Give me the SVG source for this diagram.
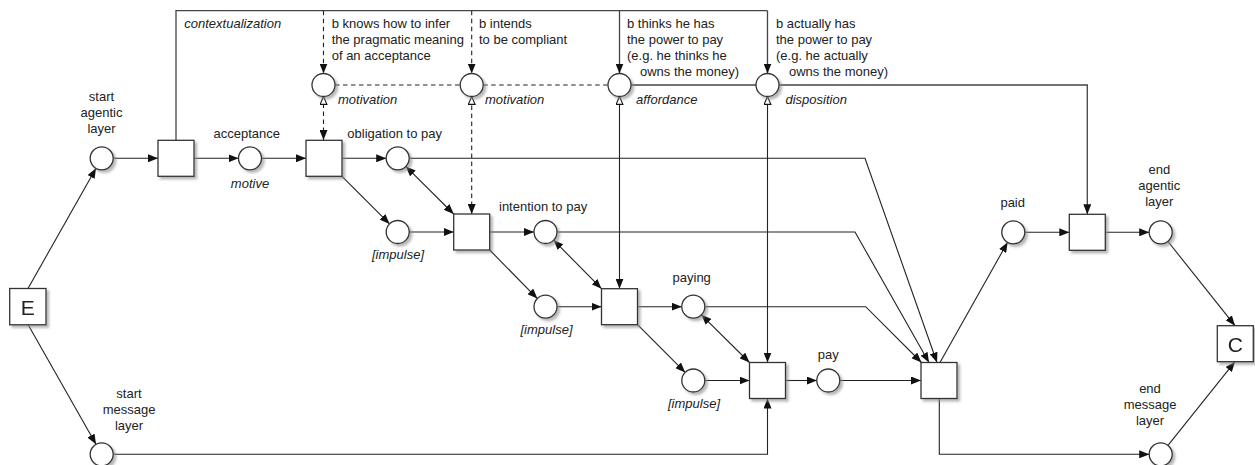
<svg xmlns="http://www.w3.org/2000/svg" width="1255" height="465" viewBox="0 0 1255 465">
<style>
text{font-family:"Liberation Sans",Arial,sans-serif;font-size:13px;fill:#222}
.it{font-style:italic}
.big{font-size:21px}
.m{text-anchor:middle}
.node{fill:#fff;stroke:#333;stroke-width:1.3}
.ln{fill:none;stroke:#222;stroke-width:1.1}
.ctx{fill:none;stroke:#444;stroke-width:1.3}
.ds{stroke-dasharray:4.5 3.5}
.a{marker-end:url(#ar)}
.aa{marker-end:url(#ar);marker-start:url(#ar)}
.ha{marker-end:url(#ho);marker-start:url(#ar)}
</style>
<defs>
<marker id="ar" viewBox="0 0 10 8" refX="10" refY="4" markerWidth="10" markerHeight="8" markerUnits="userSpaceOnUse" orient="auto-start-reverse">
<path d="M0,0 L10,4 L0,8 z" fill="#111" stroke="none"/>
</marker>
<marker id="ho" viewBox="0 0 9 8" refX="8.5" refY="4" markerWidth="9" markerHeight="8" markerUnits="userSpaceOnUse" orient="auto">
<path d="M0.6,0.6 L8.4,4 L0.6,7.4 z" fill="#fff" stroke="#111" stroke-width="1.1" stroke-dasharray="none"/>
</marker>
<filter id="sh" x="-20%" y="-20%" width="150%" height="150%">
<feDropShadow dx="2.5" dy="2.5" stdDeviation="1" flood-color="#888" flood-opacity="0.6"/>
</filter>
</defs>

<g id="connectors">
<!-- contextualization -->
<path class="ctx" d="M176,140 V10.7 H767.5"/>
<path class="ctx a" d="M619.5,10.7 V73.5"/>
<path class="ctx a" d="M767.5,10.7 V73.5"/>
<path class="ln ds a" d="M323.5,10.7 V73.5"/>
<path class="ln ds a" d="M471.7,10.7 V73.5"/>
<path class="ln ds" d="M335,85 H460.2 M483.2,85 H608"/>
<path class="ctx" d="M631,85 H756"/>
<path class="ctx a" d="M779,85 H1087.3 V214.3"/>
<!-- resource links -->
<path class="ln ds ha" d="M323.5,140 V96.5"/>
<path class="ln ds ha" d="M471.7,214 V96.5"/>
<path class="ln ha" d="M619.5,288.7 V96.5"/>
<path class="ln ha" d="M767.5,362.5 V96.5"/>
<!-- main flow -->
<path class="ln a" d="M28,288.5 L96,168.3"/>
<path class="ln a" d="M28,324.5 L96,444.3"/>
<path class="ln a" d="M113.2,158.3 H158"/>
<path class="ln a" d="M194,158.3 H238.5"/>
<path class="ln a" d="M261.5,158.3 H306"/>
<path class="ln a" d="M342,158.3 H386.2"/>
<path class="ln a" d="M342,176.3 L389.6,223.9"/>
<path class="ln a" d="M409.2,232 H453.7"/>
<path class="ln aa" d="M405.8,166.4 L453.7,214"/>
<path class="ln a" d="M489.7,232 H534"/>
<path class="ln a" d="M489.7,250 L537.4,298.6"/>
<path class="ln a" d="M557,306.7 H601.5"/>
<path class="ln aa" d="M553.6,240.1 L601.5,288.7"/>
<path class="ln a" d="M637.5,306.7 H681.8"/>
<path class="ln a" d="M637.5,324.7 L685.2,372.4"/>
<path class="ln a" d="M704.8,380.5 H749.5"/>
<path class="ln aa" d="M701.4,314.8 L749.5,362.5"/>
<path class="ln a" d="M785.5,380.5 H816.8"/>
<path class="ln a" d="M839.8,380.5 H921"/>
<path class="ln a" d="M113.2,454.3 H767.5 V398.5"/>
<path class="ln a" d="M409.2,158.3 H865 L937,362.5"/>
<path class="ln a" d="M557,232 H855 L929,362.5"/>
<path class="ln a" d="M704.8,306.7 H865.7 L921.5,362.5"/>
<path class="ln a" d="M940,362.5 L1007.6,242.3"/>
<path class="ln a" d="M939.3,398.5 V454.3 H1149.2"/>
<path class="ln a" d="M1024.8,232.3 H1069.3"/>
<path class="ln a" d="M1105.3,232.3 H1149.2"/>
<path class="ln a" d="M1168,241.5 L1235,325.7"/>
<path class="ln a" d="M1168,445.3 L1235,361.7"/>
</g>

<g id="E" filter="url(#sh)"><rect class="node" x="9.7" y="288.5" width="36.3" height="36.3"/><text class="big m" x="27.8" y="314.5">E</text></g>
<g id="C" filter="url(#sh)"><rect class="node" x="1217.3" y="325.7" width="36" height="36"/><text class="big m" x="1235.3" y="351.5">C</text></g>

<g id="t1" filter="url(#sh)"><rect class="node" x="158" y="140.3" width="36" height="36"/></g>
<g id="t2" filter="url(#sh)"><rect class="node" x="306" y="140.3" width="36" height="36"/></g>
<g id="t3" filter="url(#sh)"><rect class="node" x="453.7" y="214" width="36" height="36"/></g>
<g id="t4" filter="url(#sh)"><rect class="node" x="601.5" y="288.7" width="36" height="36"/></g>
<g id="t5" filter="url(#sh)"><rect class="node" x="749.5" y="362.5" width="36" height="36"/></g>
<g id="t6" filter="url(#sh)"><rect class="node" x="921" y="362.5" width="36" height="36"/></g>
<g id="t7" filter="url(#sh)"><rect class="node" x="1069.3" y="214.3" width="36" height="36"/></g>

<g id="start-agentic" filter="url(#sh)"><circle class="node" cx="101.7" cy="158.3" r="11.5"/></g>
<g id="acceptance" filter="url(#sh)"><circle class="node" cx="250" cy="158.3" r="11.5"/></g>
<g id="obligation" filter="url(#sh)"><circle class="node" cx="397.7" cy="158.3" r="11.5"/></g>
<g id="impulse1" filter="url(#sh)"><circle class="node" cx="397.7" cy="232" r="11.5"/></g>
<g id="intention" filter="url(#sh)"><circle class="node" cx="545.5" cy="232" r="11.5"/></g>
<g id="impulse2" filter="url(#sh)"><circle class="node" cx="545.5" cy="306.7" r="11.5"/></g>
<g id="paying" filter="url(#sh)"><circle class="node" cx="693.3" cy="306.7" r="11.5"/></g>
<g id="impulse3" filter="url(#sh)"><circle class="node" cx="693.3" cy="380.5" r="11.5"/></g>
<g id="pay" filter="url(#sh)"><circle class="node" cx="828.3" cy="380.5" r="11.5"/></g>
<g id="paid" filter="url(#sh)"><circle class="node" cx="1013.3" cy="232.3" r="11.5"/></g>
<g id="end-agentic" filter="url(#sh)"><circle class="node" cx="1160.7" cy="232.3" r="11.5"/></g>
<g id="start-message" filter="url(#sh)"><circle class="node" cx="101.7" cy="454.3" r="11.5"/></g>
<g id="end-message" filter="url(#sh)"><circle class="node" cx="1160.7" cy="454.3" r="11.5"/></g>
<g id="motivation1" filter="url(#sh)"><circle class="node" cx="323.5" cy="85" r="11.5"/></g>
<g id="motivation2" filter="url(#sh)"><circle class="node" cx="471.7" cy="85" r="11.5"/></g>
<g id="affordance" filter="url(#sh)"><circle class="node" cx="619.5" cy="85" r="11.5"/></g>
<g id="disposition" filter="url(#sh)"><circle class="node" cx="767.5" cy="85" r="11.5"/></g>

<g id="labels">
<text class="m" x="101.5" y="101">start</text>
<text class="m" x="101.5" y="117">agentic</text>
<text class="m" x="101.5" y="133">layer</text>
<text class="m" x="129" y="397.5">start</text>
<text class="m" x="129" y="413.5">message</text>
<text class="m" x="129" y="429.5">layer</text>
<text class="m" x="1159.3" y="174">end</text>
<text class="m" x="1159.3" y="190">agentic</text>
<text class="m" x="1159.3" y="206">layer</text>
<text class="m" x="1150" y="392.5">end</text>
<text class="m" x="1150" y="408.5">message</text>
<text class="m" x="1150" y="424.5">layer</text>
<text class="it" x="184.3" y="27.5">contextualization</text>
<text x="331.7" y="27.5">b knows how to infer</text>
<text x="331.7" y="43.5">the pragmatic meaning</text>
<text x="331.7" y="59.5">of an acceptance</text>
<text x="479" y="27.5">b intends</text>
<text x="479" y="43.5">to be compliant</text>
<text x="627" y="27.5">b thinks he has</text>
<text x="627" y="43.5">the power to pay</text>
<text x="627" y="59.5">(e.g. he thinks he</text>
<text x="640" y="75.5">owns the money)</text>
<text x="776" y="27.5">b actually has</text>
<text x="776" y="43.5">the power to pay</text>
<text x="776" y="59.5">(e.g. he actually</text>
<text x="789" y="75.5">owns the money)</text>
<text class="it" x="338" y="103.5">motivation</text>
<text class="it" x="485" y="103.5">motivation</text>
<text class="it" x="636" y="103.5">affordance</text>
<text class="it" x="785.5" y="103.5">disposition</text>
<text class="m" x="246.7" y="137.5">acceptance</text>
<text class="it m" x="250" y="187.5">motive</text>
<text x="347.3" y="137.5">obligation to pay</text>
<text class="it m" x="398" y="258.5">[impulse]</text>
<text x="499" y="211">intention to pay</text>
<text class="it m" x="546.5" y="334">[impulse]</text>
<text class="m" x="691.7" y="281.5">paying</text>
<text class="it m" x="694" y="407.5">[impulse]</text>
<text class="m" x="828.3" y="358.5">pay</text>
<text class="m" x="1012.7" y="207">paid</text>
</g>
</svg>
